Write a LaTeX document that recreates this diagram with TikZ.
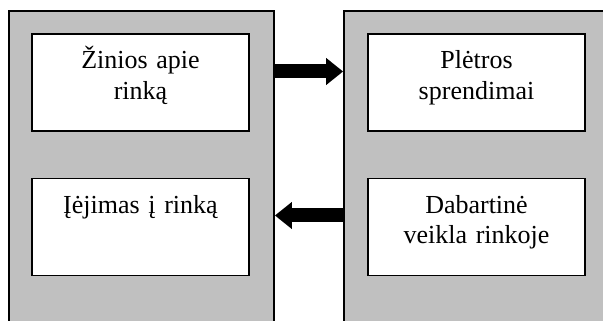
\documentclass[tikz,border=0pt]{standalone}
\usepackage{fontspec}
\setmainfont{Liberation Serif}
\usetikzlibrary{arrows.meta}
\definecolor{panelgray}{HTML}{C0C0C0}
\tikzset{
  panel/.style={draw=black, line width=1.8pt, fill=panelgray, inner sep=0pt},
  box/.style={draw=black, line width=1.4pt, fill=white, minimum width=217pt, minimum height=97pt, inner sep=0pt, text width=210pt, text height=20pt, text depth=47pt, align=center, font=\fontsize{26}{30.5}\selectfont},
  blockarrow/.style={line width=14pt, -{Triangle[length=17pt,width=26pt]}}
}
\begin{document}
\begin{tikzpicture}[x=1pt,y=1pt]
\useasboundingbox (0,0) rectangle (603,321);
\clip (0,0) rectangle (603,321);
\node[panel, minimum width=265pt, minimum height=330pt] (lp) at (141.5,145) {};
\node[panel, minimum width=275pt, minimum height=330pt] (rp) at (481.5,145) {};
\node[box] (zin) at (140.5,238.5) {Žinios apie\\rinką};
\node[box] (iej) at (140.5,94) {Įėjimas į rinką};
\node[box] (ple) at (476.5,238.5) {Plėtros\\sprendimai};
\node[box] (dab) at (476.5,94) {Dabartinė\\veikla rinkoje};
\draw[blockarrow] (lp.east |- 0,249.5) -- (rp.west |- 0,249.5);
\draw[blockarrow] (rp.west |- 0,105.5) -- (lp.east |- 0,105.5);
\end{tikzpicture}
\end{document}
